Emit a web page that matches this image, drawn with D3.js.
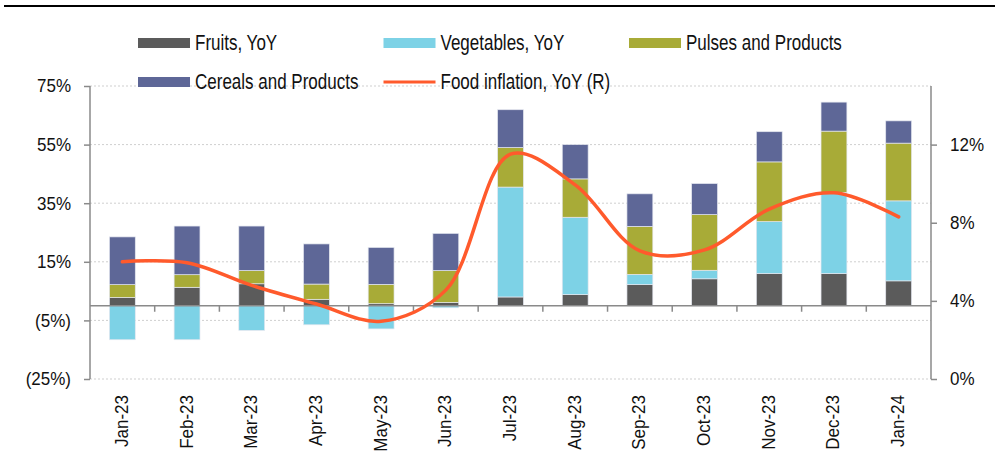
<!DOCTYPE html>
<html>
<head>
<meta charset="utf-8">
<script src="https://cdn.jsdelivr.net/npm/d3@7"></script>
<style>
  body { margin: 0; background: #fff; }
  text { font-family: "Liberation Sans", Arial, sans-serif; fill: #111; }
</style>
</head>
<body>
<div id="chart"></div>
<script>
var months = ['Jan-23', 'Feb-23', 'Mar-23', 'Apr-23', 'May-23', 'Jun-23', 'Jul-23',
  'Aug-23', 'Sep-23', 'Oct-23', 'Nov-23', 'Dec-23', 'Jan-24'];

// contributions, % (left axis)
var fruits     = [2.8, 6.3, 7.5, 2.2, 0.7, 1.1, 3.0, 3.8, 7.2, 9.2, 11.0, 11.0, 8.5];
var vegetables = [-11.6, -11.6, -8.4, -6.5, -7.9, -0.7, 37.5, 26.4, 3.5, 2.9, 17.7, 27.7, 27.3];
var pulses     = [4.4, 4.3, 4.5, 5.2, 6.6, 10.9, 13.5, 13.1, 16.4, 19.0, 20.4, 20.9, 19.7];
var cereals    = [16.3, 16.6, 15.2, 13.7, 12.6, 12.7, 12.9, 11.7, 11.1, 10.6, 10.3, 9.9, 7.6];

// food inflation, YoY % (right axis)
var foodInflation = [6.0, 5.95, 4.79, 3.84, 2.96, 4.55, 11.51, 9.94, 6.56, 6.61, 8.70, 9.53, 8.30];

var leftTicks = [-25, -5, 15, 35, 55, 75];
var rightTicks = [0, 4, 8, 12];

var seriesKeys = ['fruits', 'vegetables', 'pulses', 'cereals'];
var seriesNames = ['Fruits, YoY', 'Vegetables, YoY', 'Pulses and Products', 'Cereals and Products'];
var seriesColors = ['#5b5b5b', '#7dd2e6', '#a8ab37', '#5e6797'];
var lineColor = '#ff5a2c';

var width = 1002, height = 456;
var plot = { left: 90, right: 931, top: 86, bottom: 379 };

var rows = months.map(function (m, i) {
  return { month: m, fruits: fruits[i], vegetables: vegetables[i], pulses: pulses[i], cereals: cereals[i] };
});

var x = d3.scaleBand()
  .domain(months)
  .range([plot.left, plot.right])
  .paddingInner(0.6)
  .paddingOuter(0.3);

var y = d3.scaleLinear()
  .domain([-25, 75])
  .range([plot.bottom, plot.top]);

var y2 = d3.scaleLinear()
  .domain([0, 15])
  .range([plot.bottom, plot.top]);

var svg = d3.select('#chart')
  .append('svg')
    .attr('width', width)
    .attr('height', height);

// top rule
svg.append('line')
  .attr('x1', 4).attr('x2', 995)
  .attr('y1', 6).attr('y2', 6)
  .style('stroke', '#000')
  .style('stroke-width', 2);

// gridlines
svg.append('g')
  .selectAll('line')
  .data(leftTicks)
  .enter().append('line')
    .attr('x1', plot.left).attr('x2', plot.right)
    .attr('y1', function (d) { return y(d); })
    .attr('y2', function (d) { return y(d); })
    .style('stroke', '#cfcfcf')
    .style('stroke-width', 1)
    .style('stroke-dasharray', '2,2');

// bars
var stack = d3.stack()
  .keys(seriesKeys)
  .offset(d3.stackOffsetDiverging);
var layers = stack(rows);

svg.append('g')
  .selectAll('g')
  .data(layers)
  .enter().append('g')
    .style('fill', function (d, i) { return seriesColors[i]; })
  .selectAll('rect')
  .data(function (d) { return d; })
  .enter().append('rect')
    .attr('x', function (d) { return x(d.data.month); })
    .attr('width', x.bandwidth())
    .attr('y', function (d) { return y(Math.max(d[0], d[1])); })
    .attr('height', function (d) { return Math.abs(y(d[0]) - y(d[1])); })
    .style('stroke', '#e4e7ef')
    .style('stroke-width', 0.7);

// zero axis with ticks between months
var axisColor = '#8a8a8a';
svg.append('line')
  .attr('x1', plot.left).attr('x2', plot.right)
  .attr('y1', y(0)).attr('y2', y(0))
  .style('stroke', axisColor)
  .style('stroke-width', 1.5);

svg.append('g')
  .selectAll('line')
  .data(months.slice(1))
  .enter().append('line')
    .attr('x1', function (d) { return x(d) - x.step() * x.paddingInner() / 2; })
    .attr('x2', function (d) { return x(d) - x.step() * x.paddingInner() / 2; })
    .attr('y1', y(0))
    .attr('y2', y(0) + 6)
    .style('stroke', axisColor)
    .style('stroke-width', 1.5);

// left axis
var leftAxis = svg.append('g')
  .attr('transform', 'translate(' + plot.left + ',0)')
  .call(d3.axisLeft(y)
    .tickValues(leftTicks)
    .tickSize(6)
    .tickPadding(13)
    .tickFormat(function (d) { return d < 0 ? '(' + Math.abs(d) + '%)' : d + '%'; }));

// right axis
var rightAxis = svg.append('g')
  .attr('transform', 'translate(' + plot.right + ',0)')
  .call(d3.axisRight(y2)
    .tickValues(rightTicks)
    .tickSize(6)
    .tickPadding(13)
    .tickFormat(function (d) { return d + '%'; }));

[leftAxis, rightAxis].forEach(function (ax) {
  ax.select('.domain')
    .attr('d', 'M0,' + plot.top + 'V' + plot.bottom)
    .style('stroke', axisColor)
    .style('stroke-width', 1.5);
  ax.selectAll('.tick line')
    .style('stroke', axisColor)
    .style('stroke-width', 1.5);
  ax.selectAll('text')
    .attr('transform', 'scale(1,1.07)')
    .style('font-size', '17px')
    .style('font-family', '"Liberation Sans", Arial, sans-serif')
    .style('fill', '#111');
});

// month labels
svg.append('g')
  .selectAll('text')
  .data(months)
  .enter().append('text')
    .attr('transform', function (d) {
      return 'translate(' + (x(d) + x.bandwidth() / 2 + 5.5) + ',395) rotate(-90) scale(1,1.1)';
    })
    .attr('text-anchor', 'end')
    .style('font-size', '17px')
    .text(function (d) { return d; });

// food inflation line
var line = d3.line()
  .x(function (d, i) { return x(months[i]) + x.bandwidth() / 2; })
  .y(function (d) { return y2(d); })
  .curve(d3.curveCatmullRom.alpha(0.5));

svg.append('path')
  .datum(foodInflation)
  .attr('d', line)
  .style('fill', 'none')
  .style('stroke', lineColor)
  .style('stroke-width', 3.5)
  .style('stroke-linecap', 'round');

// legend
var legendItems = [
  { name: seriesNames[0], color: seriesColors[0], type: 'bar' },
  { name: seriesNames[1], color: seriesColors[1], type: 'bar' },
  { name: seriesNames[2], color: seriesColors[2], type: 'bar' },
  { name: seriesNames[3], color: seriesColors[3], type: 'bar' },
  { name: 'Food inflation, YoY (R)', color: lineColor, type: 'line' }
];

var legend = svg.append('g')
  .selectAll('g')
  .data(legendItems)
  .enter().append('g')
    .attr('transform', function (d, i) {
      return 'translate(' + (138 + (i % 3) * 245.5) + ',' + (i < 3 ? 43 : 82) + ')';
    });

legend.filter(function (d) { return d.type === 'bar'; })
  .append('rect')
    .attr('x', 0).attr('y', -5)
    .attr('width', 52).attr('height', 10)
    .style('fill', function (d) { return d.color; });

legend.filter(function (d) { return d.type === 'line'; })
  .append('line')
    .attr('x1', 0).attr('x2', 52)
    .attr('y1', 0).attr('y2', 0)
    .style('stroke', function (d) { return d.color; })
    .style('stroke-width', 3);

// legend text is drawn tall and narrow, as in the source
legend.append('text')
  .attr('transform', 'translate(57,0) scale(1,1.25)')
  .attr('dy', '0.35em')
  .style('font-size', '17px')
  .text(function (d) { return d.name; });
</script>
</body>
</html>
